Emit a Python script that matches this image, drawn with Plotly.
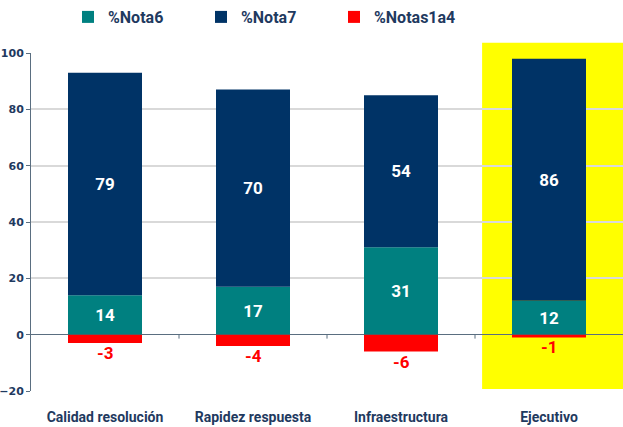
import plotly.graph_objects as go

categories = ["Calidad resolución", "Rapidez respuesta", "Infraestructura", "Ejecutivo"]
nota6 = [14, 17, 31, 12]
nota7 = [79, 70, 54, 86]
notas1a4 = [-3, -4, -6, -1]
y_ticks = [-20, 0, 20, 40, 60, 80, 100]

FONT = "Roboto, Lato, Liberation Sans, sans-serif"
TICKFONT = "DejaVu Sans, sans-serif"
NAVY_TXT = "#1F3A5F"

fig = go.Figure()
fig.add_trace(go.Bar(
    name="%Nota6", x=categories, y=nota6, marker_color="#008080", marker_line_width=0,
    text=nota6, textposition="inside", insidetextanchor="middle",
    textfont=dict(color="white", size=17, family=FONT, weight="bold"),
))
fig.add_trace(go.Bar(
    name="%Nota7", x=categories, y=nota7, marker_color="#003366", marker_line_width=0,
    text=nota7, textposition="inside", insidetextanchor="middle",
    textfont=dict(color="white", size=17, family=FONT, weight="bold"),
))
fig.add_trace(go.Bar(
    name="%Notas1a4", x=categories, y=notas1a4, marker_color="#FF0000", marker_line_width=0,
))
for c, v in zip(categories, notas1a4):
    fig.add_annotation(x=c, y=v, text=str(v), showarrow=False, yanchor="top", yshift=2,
                       font=dict(color="#FF0000", size=17, family=FONT, weight="bold"))

# highlight behind "Ejecutivo"
fig.add_shape(type="rect", xref="paper", yref="paper", x0=0.762, x1=1.0, y0=0.006, y1=1.03,
              fillcolor="#FFFF00", line_width=0, layer="below")
# category boundary ticks on the zero line
for b in [0.5, 1.5, 2.5]:
    fig.add_shape(type="line", xref="x", yref="y", x0=b, x1=b, y0=0, y1=-1.4,
                  line=dict(color="#5A6E80", width=1))

fig.update_layout(
    width=623, height=427,
    margin=dict(l=31, r=0, t=53, b=36, autoexpand=False),
    barmode="relative", bargap=0.5,
    plot_bgcolor="rgba(0,0,0,0)", paper_bgcolor="white",
    font=dict(family=FONT, color=NAVY_TXT),
    legend=dict(orientation="h", xref="container", yref="container",
                x=68 / 623, xanchor="left", y=1 - 17 / 427, yanchor="middle",
                font=dict(size=16, family=FONT, color=NAVY_TXT, weight="bold"),
                entrywidth=88, entrywidthmode="pixels", itemwidth=30,
                traceorder="normal"),
    showlegend=True,
)
fig.update_xaxes(showgrid=False, showline=False, ticks="", ticklabelstandoff=16, automargin=False,
                 tickfont=dict(size=14, family=FONT, color=NAVY_TXT, weight="bold"))
fig.update_yaxes(range=[-20, 100], tickvals=y_ticks, showgrid=True, gridcolor="#D9D9D9",
                 gridwidth=1.5, zeroline=True, zerolinecolor="#5A6E80", zerolinewidth=1,
                 showline=True, linecolor="#5A6E80", linewidth=1, ticks="outside", ticklen=4,
                 tickcolor="#5A6E80", automargin=False,
                 tickfont=dict(size=11, family=TICKFONT, color=NAVY_TXT, weight="bold"))

fig.write_html("out.html", config={"displayModeBar": False},
               post_script="document.body.style.margin='0px';")
